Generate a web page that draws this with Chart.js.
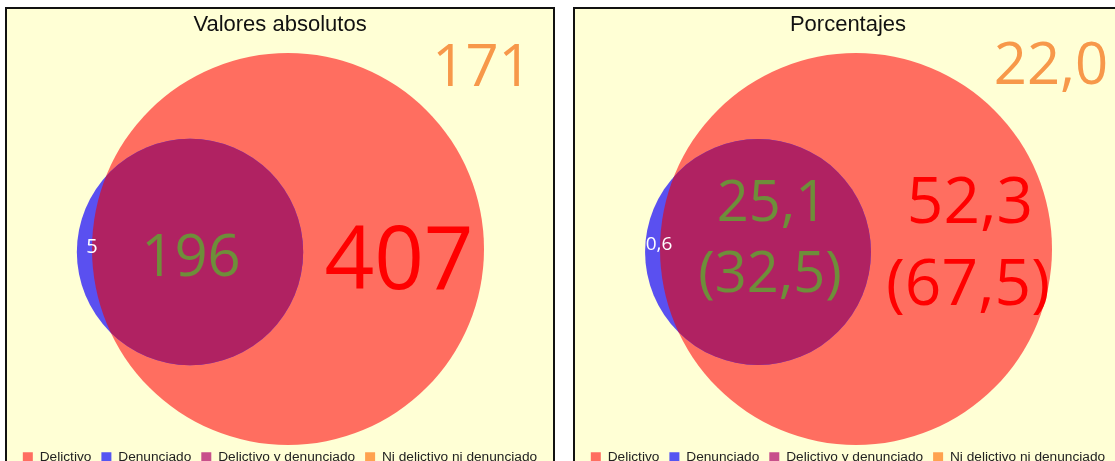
<!DOCTYPE html>
<html>
<head>
<meta charset="utf-8">
<script src="https://cdn.jsdelivr.net/npm/chart.js@4.4.1/dist/chart.umd.min.js"></script>
<style>
html,body{margin:0;padding:0;background:#ffffff;overflow:hidden;width:1115px;height:461px}
.panel{position:absolute;top:7px;width:546px;height:465px;border:2px solid #111;background:#FFFFD5}
#p1{left:5px}
#p2{left:573px}
.box{position:relative;width:546px;height:465px}
</style>
</head>
<body>
<div class="panel" id="p1"><div class="box"><canvas id="c1"></canvas></div></div>
<div class="panel" id="p2"><div class="box"><canvas id="c2"></canvas></div></div>
<script>
// ---------- DATA ----------
const panelTitles = ['Valores absolutos', 'Porcentajes'];
const legendLabels = ['Delictivo', 'Denunciado', 'Delictivo y denunciado', 'Ni delictivo ni denunciado'];
// regions: solo delictivo, solo denunciado, delictivo y denunciado, ni delictivo ni denunciado
const regionNames = ['Solo delictivo', 'Solo denunciado', 'Delictivo y denunciado', 'Ni delictivo ni denunciado'];
const absoluteValues = [407, 5, 196, 171];
const percentValues = [52.3, 0.6, 25.1, 22.0];
const percentOfDelictivo = [67.5, null, 32.5, null];

// ---------- STYLE / GEOMETRY ----------
const legendColors = ['#FF6E60', '#5555F2', '#C8508B', '#FFA24F'];
const circleColors = {delictivo: '#FF6E60', denunciado: '#5A50F0', ambos: '#B02262'};
const textColors = ['#FF0000', '#FFFFFF', '#6E8E3A', '#F7984A'];
const layout = {
  rMax: 196,
  delictivoCenter: [281, 240],
  denunciadoCenter: [183, 243]
};
const labelLayout = [
  [ [[392, 249, 87]], [[85, 237, 20]], [[184, 246, 58]], [[475, 56, 58]] ],
  [ [[395, 191, 64], [393, 273, 64]], [[84, 234, 19]], [[197, 192, 56], [195, 263, 56]], [[476, 54, 58]] ]
];

function fmt(v){ return v.toFixed(1).replace('.', ','); }

function panelTexts(p){
  if (p === 0) return absoluteValues.map(v => [String(v)]);
  return percentValues.map((v, i) => percentOfDelictivo[i] != null ? [fmt(v), '(' + fmt(percentOfDelictivo[i]) + ')'] : [fmt(v)]);
}

function radii(values){
  const del = values[0] + values[2];
  const den = values[1] + values[2];
  const m = Math.max(del, den);
  return [layout.rMax * Math.sqrt(del / m), layout.rMax * Math.sqrt(den / m)];
}

const vennClip = {
  id: 'vennClip',
  beforeDatasetDraw(chart, args){
    if (args.index !== 2) return;
    const el = chart.getDatasetMeta(0).data[0];
    const ctx = chart.ctx;
    ctx.save();
    ctx.beginPath();
    ctx.arc(el.x, el.y, el.options.radius, 0, Math.PI * 2);
    ctx.clip();
  },
  afterDatasetDraw(chart, args){
    if (args.index === 2) chart.ctx.restore();
  }
};

const vennLabels = {
  id: 'vennLabels',
  afterDatasetsDraw(chart){
    const p = chart.options.plugins.vennLabels.panel;
    const texts = panelTexts(p);
    const ctx = chart.ctx;
    const xs = chart.scales.x, ys = chart.scales.y;
    ctx.save();
    ctx.textAlign = 'center';
    ctx.textBaseline = 'alphabetic';
    texts.forEach((lines, i) => {
      lines.forEach((t, j) => {
        const [lx, ly, fs] = labelLayout[p][i][j];
        ctx.font = fs + 'px "Open Sans"';
        ctx.fillStyle = textColors[i];
        ctx.fillText(t, xs.getPixelForValue(lx), ys.getPixelForValue(ly) + 0.357 * fs);
      });
    });
    ctx.restore();
  }
};

function makeChart(id, p, values){
  const [rDel, rDen] = radii(values);
  const chart = new Chart(document.getElementById(id), {
    type: 'bubble',
    data: {
      datasets: [
        {label: legendLabels[0], data: [{x: layout.delictivoCenter[0], y: layout.delictivoCenter[1], r: rDel}], backgroundColor: circleColors.delictivo, borderWidth: 0, order: 3, clip: false},
        {label: legendLabels[1], data: [{x: layout.denunciadoCenter[0], y: layout.denunciadoCenter[1], r: rDen}], backgroundColor: circleColors.denunciado, borderWidth: 0, order: 2, clip: false},
        {label: legendLabels[2], data: [{x: layout.denunciadoCenter[0], y: layout.denunciadoCenter[1], r: rDen}], backgroundColor: circleColors.ambos, borderWidth: 0, order: 1, clip: false},
        {label: legendLabels[3], data: [], backgroundColor: legendColors[3], borderWidth: 0, order: 4}
      ]
    },
    options: {
      responsive: true,
      maintainAspectRatio: false,
      animation: false,
      events: [],
      layout: {padding: 0, autoPadding: false},
      scales: {
        x: {type: 'linear', display: false, min: 0, max: 546, bounds: 'data', grace: 0},
        y: {type: 'linear', display: false, reverse: true, min: 0, max: 465, bounds: 'data', grace: 0}
      },
      plugins: {
        tooltip: {enabled: false},
        title: {
          display: true, text: panelTitles[p], color: '#111',
          font: {family: '"Liberation Sans", Arial, sans-serif', size: 22, weight: 'normal'},
          padding: {top: 3, bottom: 4}
        },
        legend: {
          display: true, position: 'bottom', onClick: null,
          labels: {
            font: {family: '"Liberation Sans", Arial, sans-serif', size: 13.7},
            color: '#222', boxWidth: 10, boxHeight: 10, padding: 10,
            generateLabels: () => legendLabels.map((t, i) => ({
              text: t, fillStyle: legendColors[i], strokeStyle: legendColors[i], lineWidth: 0, hidden: false, datasetIndex: i, fontColor: '#222'
            }))
          }
        },
        vennLabels: {panel: p}
      }
    },
    plugins: [vennClip, vennLabels]
  });
  const a = chart.chartArea;
  chart.options.scales.x.min = a.left;
  chart.options.scales.x.max = a.right;
  chart.options.scales.y.min = a.top;
  chart.options.scales.y.max = a.bottom;
  chart.update('none');
  return chart;
}

makeChart('c1', 0, absoluteValues);
makeChart('c2', 1, percentValues);
</script>
</body>
</html>
